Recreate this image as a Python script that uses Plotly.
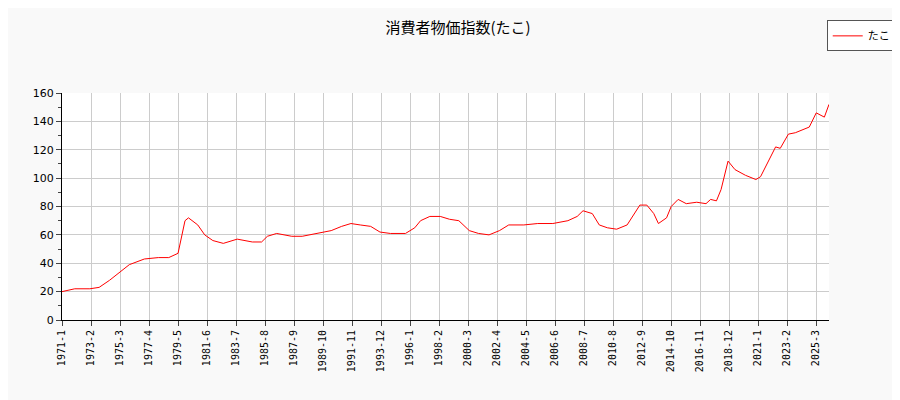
import plotly.graph_objects as go

start_year, start_month = 1971, 1
month_idx = [0,11,24,32,41,49,58,71,83,92,100,106,109,117,123,130,139,151,164,172,177,185,198,207,219,232,241,249,257,266,274,283,296,304,309,317,326,334,342,351,359,368,377,385,398,410,423,436,444,449,457,463,470,478,487,493,498,504,510,514,521,525,531,538,547,555,559,564,568,574,580,589,598,602,609,615,619,626,632,640,644,650,657,661]
values = [20,22,22,23,28,33,39,43,44,44,47,70,72,67,60,56,54,57,55,55,59,61,59,59,61,63,66,68,67,66,62,61,61,65,70,73,73,71,70,63,61,60,63,67,67,68,68,70,73,77,75,67,65,64,67,75,81,81,75,68,72,80,85,82,83,82,85,84,92,112,106,102,99,101,112,122,121,131,132,135,136,146,143,152]

def label(i):
    y = start_year + (start_month - 1 + i) // 12
    m = (start_month - 1 + i) % 12 + 1
    return f"{y}-{m}"

tick_idx = list(range(0, 651, 25))
tick_text = [label(i) for i in tick_idx]
hover = [label(i) for i in month_idx]

fig = go.Figure(go.Scatter(x=month_idx, y=values, mode="lines", name="たこ",
                           line=dict(color="red", width=1), text=hover))
fig.update_layout(
    width=900, height=400,
    paper_bgcolor="#f9f9f9", plot_bgcolor="white",
    font=dict(family="Noto Sans CJK JP, DejaVu Sans", size=11, color="black"),
    title=dict(text="消費者物価指数(たこ)", x=0.5, y=0.965, xanchor="center", font=dict(size=15)),
    margin=dict(l=54, r=68, t=72, b=88),
    showlegend=True,
    legend=dict(x=1.087, y=1.32, xanchor="right", yanchor="top", bordercolor="#555", borderwidth=1, bgcolor="white"),
)
fig.update_xaxes(range=[0, 661], tickvals=tick_idx, ticktext=tick_text, tickangle=-90,
                 showgrid=True, gridcolor="#cccccc", ticks="outside", showline=True, linecolor="black",
                 tickfont=dict(family="DejaVu Sans Mono, DejaVu Sans", size=10))
fig.update_yaxes(range=[0, 160], dtick=20, showgrid=True, gridcolor="#cccccc", ticks="outside",
                 showline=True, linecolor="black", minor=dict(ticks="outside", dtick=10, ticklen=3),
                 tickfont=dict(family="DejaVu Sans", size=11))
fig.write_html("out.html")
